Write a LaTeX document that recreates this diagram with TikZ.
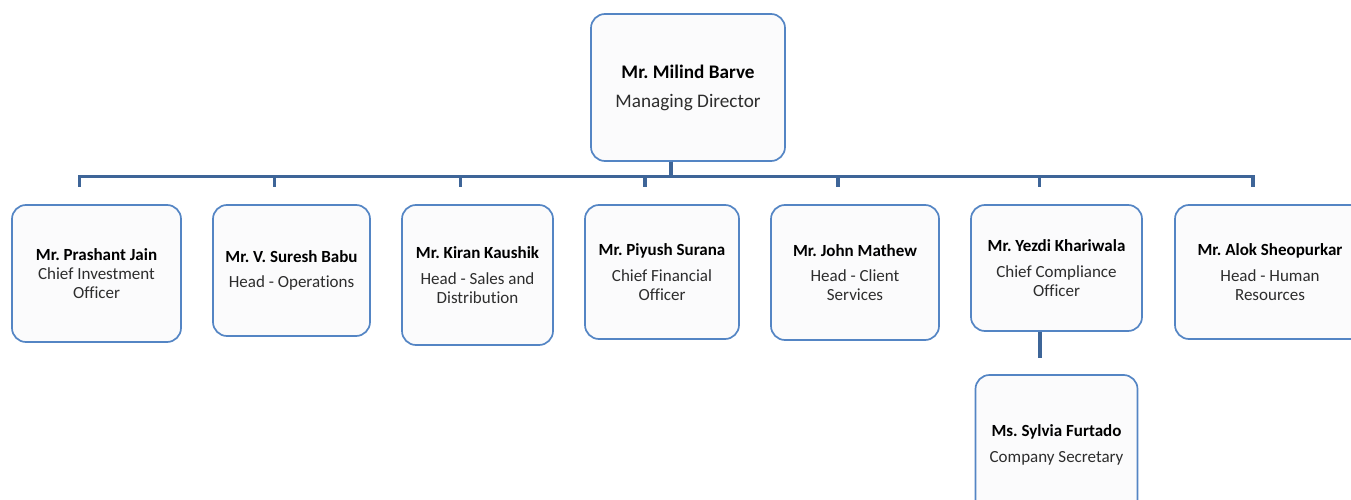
\documentclass[tikz,border=0pt]{standalone}
\usepackage{fontspec}
\setmainfont{Carlito}[Ligatures=NoCommon]
\frenchspacing
\usetikzlibrary{positioning}
\definecolor{boxblue}{RGB}{84,133,196}
\definecolor{linkblue}{RGB}{62,101,152}
\definecolor{boxfill}{RGB}{251,251,252}
\definecolor{titlegray}{RGB}{45,45,45}

\begin{document}
\begin{tikzpicture}[
  x=1pt, y=-1pt,
  person/.style={rectangle, rounded corners=14pt, draw=boxblue, line width=1.7pt, fill=boxfill, align=center, inner sep=2pt, text=titlegray, font=\fontsize{17}{19}\selectfont},
  link/.style={draw=linkblue, line width=3.2pt}
]
\path[use as bounding box, clip] (0,0) rectangle (1351,500);

\node[person, minimum width=194pt, minimum height=147pt, font=\fontsize{19.2}{22}\selectfont] (barve) at (688,87.5)
  {\textcolor{black}{\textbf{Mr. Milind Barve}}\\[7pt]Managing Director};

\node[person, minimum width=169pt, minimum height=137pt] (jain) at (96.5,273.5)
  {\textcolor{black}{\textbf{Mr. Prashant Jain}}\\Chief Investment\\Officer};
\node[person, minimum width=157pt, minimum height=131pt] (babu) at (291.5,270.5)
  {\textcolor{black}{\textbf{Mr. V. Suresh Babu}}\\[6.5pt]Head - Operations};
\node[person, minimum width=151pt, minimum height=140pt] (kaushik) at (477.5,275)
  {\textcolor{black}{\textbf{Mr. Kiran Kaushik}}\\[6.5pt]Head - Sales and\\Distribution};
\node[person, minimum width=154pt, minimum height=134pt] (surana) at (662,272)
  {\textcolor{black}{\textbf{Mr. Piyush Surana}}\\[6.5pt]Chief Financial\\Officer};
\node[person, minimum width=168pt, minimum height=135pt] (mathew) at (855,272.5)
  {\textcolor{black}{\textbf{Mr. John Mathew}}\\[6.5pt]Head - Client\\Services};
\node[person, minimum width=171pt, minimum height=126pt] (khariwala) at (1056.5,268)
  {\textcolor{black}{\textbf{Mr. Yezdi Khariwala}}\\[6.5pt]Chief Compliance\\Officer};
\node[person, minimum width=190pt, minimum height=134pt] (sheopurkar) at (1270,272)
  {\textcolor{black}{\textbf{Mr. Alok Sheopurkar}}\\[6.5pt]Head - Human\\Resources};

\node[person, minimum width=162pt, minimum height=140pt] (furtado) at (1056.5,445)
  {\textcolor{black}{\textbf{Ms. Sylvia Furtado}}\\[6.5pt]Company Secretary};

% reporting lines
\foreach \p in {jain,babu,kaushik,surana,mathew,khariwala,sheopurkar}
  \draw[link] ([xshift=-17pt]barve.south) -- ++(0,15) -| ([xshift=-17pt,yshift=17pt]\p.north);
\draw[link] ([xshift=-16.5pt]khariwala.south) -- ([xshift=-16.5pt,yshift=16pt]furtado.north);
\end{tikzpicture}
\end{document}
